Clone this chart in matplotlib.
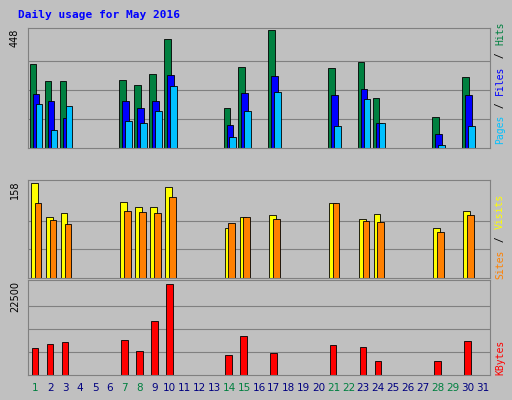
import matplotlib
matplotlib.use("Agg")
import matplotlib.pyplot as plt
import numpy as np

days = list(range(1, 32))
weekend = [1, 7, 8, 14, 15, 21, 22, 28, 29]
active = [1, 2, 3, 7, 8, 9, 10, 14, 15, 17, 21, 23, 24, 28, 30]
hits   = [323, 258, 258, 262, 243, 285, 421, 152, 312, 452, 308, 330, 194, 118, 274]
files  = [209, 182, 114, 182, 152, 182, 281, 87, 213, 277, 205, 228, 95, 53, 205]
pages  = [171, 68, 163, 103, 95, 144, 239, 42, 141, 216, 84, 190, 95, 11, 84]
visits = [158, 102, 108, 126, 118, 118, 151, 83, 101, 105, 125, 98, 106, 83, 111]
sites  = [125, 96, 90, 111, 110, 108, 135, 91, 101, 98, 125, 95, 93, 76, 105]
kbytes = [6600, 7600, 8100, 8600, 5900, 13200, 22300, 4900, 9500, 5400, 7300, 6800, 3400, 3400, 8300]
max_hits, max_visits, max_kb = 448, 158, 22500

BG = "#C0C0C0"
fig = plt.figure(figsize=(5.12, 4.0), dpi=100, facecolor=BG)
W, H = 512, 400
def ax_at(x0, y0, x1, y1):
    a = fig.add_axes([x0/W, 1-y1/H, (x1-x0)/W, (y1-y0)/H], facecolor=BG)
    a.set_xlim(0.5, 31.5)
    a.set_xticks([]); a.set_yticks([])
    for s in a.spines.values():
        s.set_color("#808080")
    return a

fig.text(18/W, 1-15/H, "Daily usage for May 2016", color="#0000FF",
         family="DejaVu Sans Mono", weight="bold", fontsize=8, va="center")

ad = np.array(active)
kw = dict(align="edge", width=0.45, edgecolor="black", linewidth=0.6)

a1 = ax_at(28, 28, 490, 148)
a1.set_ylim(0, max_hits*1.03)
for g in (0.25, 0.5, 0.75):
    a1.axhline(max_hits*g, color="#808080", lw=0.8, zorder=0)
a1.bar(ad-0.38, hits, color="#008040", **kw)
a1.bar(ad-0.18, files, color="#0000FF", **kw)
a1.bar(ad+0.02, pages, color="#00C0FF", **kw)

a2 = ax_at(28, 180, 490, 278)
a2.set_ylim(0, max_visits*1.03)
for g in (0.3, 0.6):
    a2.axhline(max_visits*g, color="#808080", lw=0.8, zorder=0)
a2.bar(ad-0.3, visits, color="#FFFF00", **kw)
a2.bar(ad-0.05, sites, color="#FF8000", **kw)

a3 = ax_at(28, 280, 490, 375)
a3.set_ylim(0, max_kb*1.03)
for g in (0.25, 0.5, 0.75):
    a3.axhline(max_kb*g, color="#808080", lw=0.8, zorder=0)
a3.bar(ad-0.25, kbytes, color="#FF0000", **kw)

for d in days:
    x = 28 + (d-0.5)/31*462
    fig.text(x/W, 1-388/H, str(d), ha="center", va="center", fontsize=7.5,
             color="#008040" if d in weekend else "#000080")

fig.text(15/W, 1-38/H, str(max_hits), rotation=90, fontsize=7, ha="center", va="center")
fig.text(15/W, 1-190/H, str(max_visits), rotation=90, fontsize=7, ha="center", va="center")
fig.text(15/W, 1-297/H, str(max_kb), rotation=90, fontsize=7, ha="center", va="center")

def rlabel(ycenter, parts):
    total = sum(len(p) for p, _ in parts)
    ch = 6.2
    y = ycenter + total*ch/2
    for p, c in parts:
        fig.text(500/W, 1-(y - len(p)*ch/2)/H, p, rotation=90, fontsize=7,
                 family="DejaVu Sans Mono", color=c, ha="center", va="center")
        y -= len(p)*ch
rlabel(83, [("Pages", "#00C0FF"), (" / ", "black"), ("Files", "#0000FF"), (" / ", "black"), ("Hits", "#008040")])
rlabel(236, [("Sites", "#FF8000"), (" / ", "black"), ("Visits", "#FFFF00")])
rlabel(357, [("KBytes", "#FF0000")])

fig.savefig("out.png", dpi=100, facecolor=BG)
